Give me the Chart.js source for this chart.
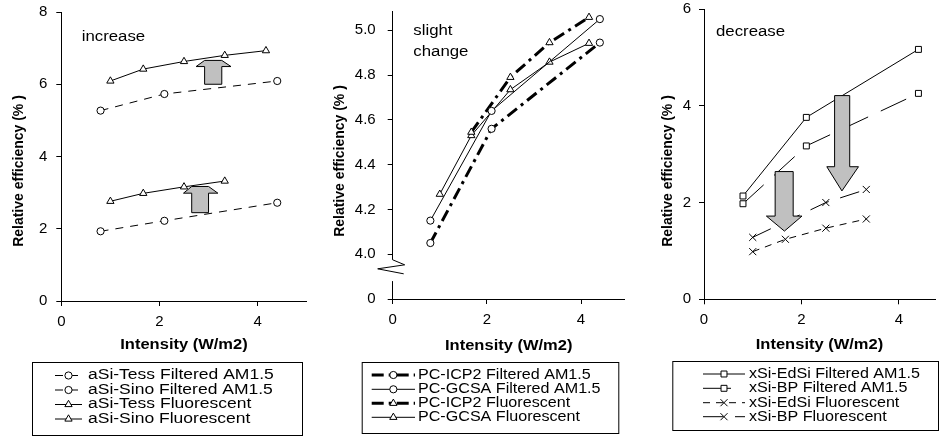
<!DOCTYPE html>
<html>
<head>
<meta charset="utf-8">
<script src="https://cdn.jsdelivr.net/npm/chart.js@4.4.1/dist/chart.umd.min.js"></script>
<style>
  html, body { margin: 0; padding: 0; background: #fff; }
  #wrap { position: relative; width: 941px; height: 437px; overflow: hidden; }
  canvas { position: absolute; top: 0; }
</style>
</head>
<body>
<div id="wrap">
  <canvas id="c1" width="320" height="437" style="left:0"></canvas>
  <canvas id="c2" width="310" height="437" style="left:320px"></canvas>
  <canvas id="c3" width="311" height="437" style="left:630px"></canvas>
</div>
<script>
// intensity positions (W/m2)
const xFiltered = [0.8, 2.1, 4.4];
const xFluor = [1.0, 1.67, 2.5, 3.33, 4.17];
const xFluorShort = [1.0, 1.67, 2.5, 3.33];
const xIcp2Fluor = [1.67, 2.5, 3.33, 4.17];
const xBpFluor = [1.0, 2.5, 3.33];
const xTicks = [0, 2, 4];

// panel 1 - aSi (increase)
const aSiTessFiltered = [5.27, 5.73, 6.09];
const aSiSinoFiltered = [1.93, 2.22, 2.72];
const aSiTessFluor = [6.09, 6.42, 6.63, 6.80, 6.93];
const aSiSinoFluor = [2.76, 2.98, 3.16, 3.32];
const yTicks1 = [0, 2, 4, 6, 8];

// panel 2 - PC (slight change)
const pcIcp2Filtered = [4.05, 4.56, 4.945];
const pcGcsaFiltered = [4.15, 4.64, 5.05];
const pcIcp2Fluor = [4.545, 4.79, 4.945, 5.058];
const pcGcsaFluor = [4.268, 4.53, 4.735, 4.858, 4.942];
const yTicks2 = [3.8, 4.0, 4.2, 4.4, 4.6, 4.8, 5.0]; // 3.8 is shown as "0" under the axis break

// panel 3 - xSi (decrease)
const xSiEdSiFiltered = [2.135, 3.76, 5.165];
const xSiBpFiltered = [1.975, 3.17, 4.256];
const xSiEdSiFluor = [0.985, 1.24, 1.47, 1.66];
const xSiBpFluor = [1.28, 2.0, 2.27];
const yTicks3 = [0, 2, 4, 6];

// block arrows, in data units of their panel
const arrows1 = [
  [[2.92, 6.0], [3.27, 6.0], [3.27, 6.49], [3.457, 6.49], [3.27, 6.66], [2.92, 6.66], [2.747, 6.49], [2.92, 6.49]],
  [[2.657, 2.445], [3.0, 2.445], [3.0, 2.985], [3.19, 2.985], [3.0, 3.17], [2.657, 3.17], [2.49, 2.985], [2.657, 2.985]]
];
const arrows3 = [
  [[1.46, 2.64], [1.83, 2.64], [1.83, 1.72], [2.01, 1.72], [1.65, 1.41], [1.28, 1.72], [1.46, 1.72]],
  [[2.68, 4.21], [2.99, 4.21], [2.99, 2.74], [3.17, 2.74], [2.83, 2.24], [2.52, 2.74], [2.68, 2.74]]
];

const FONT = '"Liberation Sans", Arial, sans-serif';
Chart.defaults.font.family = FONT;
Chart.defaults.color = '#000';

const pts = (xs, ys) => ys.map((y, i) => ({ x: xs[i], y: y }));

function ds(label, xs, ys, style) {
  return Object.assign({
    label: label,
    data: pts(xs, ys),
    showLine: true,
    borderColor: '#000',
    borderWidth: 1,
    pointBorderColor: '#000',
    pointBackgroundColor: '#fff',
    pointBorderWidth: 1,
    pointRadius: 3.6,
    tension: 0,
    fill: false
  }, style);
}

function drawMarker(ctx, style, r, x, y) {
  ctx.save();
  ctx.setLineDash([]);
  ctx.lineWidth = 1;
  ctx.strokeStyle = '#000';
  ctx.fillStyle = '#fff';
  ctx.beginPath();
  if (style === 'circle') {
    ctx.arc(x, y, r, 0, Math.PI * 2);
  } else if (style === 'triangle') {
    ctx.moveTo(x, y - r);
    ctx.lineTo(x + 0.866 * r, y + 0.5 * r);
    ctx.lineTo(x - 0.866 * r, y + 0.5 * r);
    ctx.closePath();
  } else if (style === 'rect') {
    const s = Math.SQRT1_2 * r;
    ctx.rect(x - s, y - s, 2 * s, 2 * s);
  } else if (style === 'crossRot') {
    const o = Math.SQRT1_2 * r;
    ctx.moveTo(x - o, y - o); ctx.lineTo(x + o, y + o);
    ctx.moveTo(x - o, y + o); ctx.lineTo(x + o, y - o);
  }
  if (style !== 'crossRot') ctx.fill();
  ctx.stroke();
  ctx.restore();
}

function stretchText(ctx, text, x, y, sx) {
  ctx.save();
  ctx.translate(x, y);
  ctx.scale(sx, 1);
  ctx.fillText(text, 0, 0);
  ctx.restore();
}

// titles, notes, arrows, axis break and the boxed legend
function deco(cfg) {
  return {
    id: 'deco',
    afterDatasetsDraw(chart) {
      const ctx = chart.ctx, sx = chart.scales.x, sy = chart.scales.y;
      (cfg.arrows || []).forEach(poly => {
        ctx.save();
        ctx.beginPath();
        poly.forEach((p, i) => {
          const px = sx.getPixelForValue(p[0]), py = sy.getPixelForValue(p[1]);
          if (i) ctx.lineTo(px, py); else ctx.moveTo(px, py);
        });
        ctx.closePath();
        ctx.fillStyle = '#c0c0c0';
        ctx.fill();
        ctx.strokeStyle = '#000';
        ctx.lineWidth = 1;
        ctx.stroke();
        ctx.restore();
      });
    },
    afterDraw(chart) {
      const ctx = chart.ctx, area = chart.chartArea, sy = chart.scales.y;
      ctx.save();
      ctx.fillStyle = '#000';
      ctx.strokeStyle = '#000';

      if (cfg.axisBreak) {
        const y1 = sy.getPixelForValue(cfg.axisBreak[1]);
        const y2 = sy.getPixelForValue(cfg.axisBreak[0]);
        const ax = area.left;
        ctx.fillStyle = '#fff';
        ctx.fillRect(ax - 3, y1, 6, y2 - y1);
        ctx.beginPath();
        ctx.lineWidth = 1;
        ctx.moveTo(ax, y1);
        ctx.lineTo(ax + 12, y1 + 5);
        ctx.lineTo(ax - 15, y1 + 9);
        ctx.lineTo(ax + 11, y1 + 14);
        ctx.stroke();
        ctx.fillStyle = '#000';
      }

      // notes inside the plot
      ctx.font = '14px ' + FONT;
      ctx.textAlign = 'left';
      ctx.textBaseline = 'middle';
      cfg.notes.forEach(n => stretchText(ctx, n.text, n.x, n.y, 1.2));

      // axis titles
      ctx.font = 'bold 15px ' + FONT;
      ctx.textAlign = 'center';
      stretchText(ctx, 'Intensity (W/m2)', (area.left + area.right) / 2, cfg.xTitleY, 1.1);
      ctx.font = 'bold 14px ' + FONT;
      ctx.save();
      ctx.translate(cfg.yTitle[0], cfg.yTitle[1]);
      ctx.rotate(-Math.PI / 2);
      ctx.fillText('Relative efficiency (% )', 0, 0);
      ctx.restore();

      // legend
      const lg = cfg.legend;
      ctx.lineWidth = 1;
      ctx.strokeRect(lg.box[0] + 0.5, lg.box[1] + 0.5, lg.box[2] - lg.box[0], lg.box[3] - lg.box[1]);
      ctx.font = '14px ' + FONT;
      ctx.textAlign = 'left';
      chart.data.datasets.forEach((d, i) => {
        const y = lg.rows[i];
        ctx.save();
        ctx.beginPath();
        ctx.setLineDash(d.borderDash || []);
        ctx.lineWidth = d.borderWidth;
        ctx.moveTo(lg.sample[0], y);
        ctx.lineTo(lg.sample[1], y);
        ctx.stroke();
        ctx.restore();
        drawMarker(ctx, d.pointStyle, d.pointRadius, (lg.sample[0] + lg.sample[1]) / 2, y);
        stretchText(ctx, d.label, lg.textX, y, lg.sx);
      });
      ctx.restore();
    }
  };
}

function makeScales(o) {
  const axisLine = { display: true, color: '#000', width: 1 };
  const grid = { drawOnChartArea: false, color: '#000', tickLength: 5, lineWidth: 1 };
  return {
    x: {
      type: 'linear', min: 0, max: o.xMax,
      afterBuildTicks: s => { s.ticks = xTicks.map(v => ({ value: v })); },
      afterFit: s => { s.height = 30; s.paddingLeft = 0; s.paddingRight = 0; },
      ticks: { color: '#000', font: { size: 15 }, padding: 7, maxRotation: 0, autoSkip: false },
      grid: grid,
      border: axisLine
    },
    y: {
      type: 'linear', min: o.yMin, max: o.yMax,
      afterBuildTicks: s => { s.ticks = o.yTicks.map(v => ({ value: v })); },
      afterFit: s => { s.width = o.left; s.paddingTop = 0; s.paddingBottom = 0; },
      ticks: { color: '#000', font: { size: 15 }, padding: o.yPad, autoSkip: false, callback: o.yLabel },
      grid: grid,
      border: axisLine
    }
  };
}

function makeChart(id, datasets, o, cfg) {
  return new Chart(document.getElementById(id), {
    type: 'scatter',
    data: { datasets: datasets },
    options: {
      responsive: false,
      animation: false,
      devicePixelRatio: 1,
      layout: { padding: { top: o.top, right: o.padRight, bottom: o.padBottom, left: 0 } },
      plugins: { legend: { display: false }, tooltip: { enabled: false } },
      scales: makeScales(o)
    },
    plugins: [deco(cfg)]
  });
}

const dash1 = [8, 7];
makeChart('c1', [
  ds('aSi-Tess Filtered AM1.5', xFiltered, aSiTessFiltered, { pointStyle: 'circle', borderDash: dash1 }),
  ds('aSi-Sino Filtered AM1.5', xFiltered, aSiSinoFiltered, { pointStyle: 'circle', borderDash: dash1 }),
  ds('aSi-Tess Fluorescent', xFluor, aSiTessFluor, { pointStyle: 'triangle', pointRadius: 4.2 }),
  ds('aSi-Sino Fluorescent', xFluorShort, aSiSinoFluor, { pointStyle: 'triangle', pointRadius: 4.2 })
], {
  xMax: 5, yMin: 0, yMax: 8, yTicks: yTicks1, yLabel: v => String(v),
  left: 61.3, top: 12, padRight: 13.3, padBottom: 106, yPad: 9
}, {
  arrows: arrows1,
  notes: [{ text: 'increase', x: 81.7, y: 36.7 }],
  xTitleY: 345, yTitle: [19, 171],
  legend: { box: [32, 362, 302, 435], rows: [375.5, 390, 404.5, 419], sample: [55, 82], textX: 88, sx: 1.25 }
});

const dashDot = [12, 5, 3, 5];
makeChart('c2', [
  ds('PC-ICP2 Filtered AM1.5', xFiltered, pcIcp2Filtered, { pointStyle: 'circle', borderWidth: 3, borderDash: dashDot }),
  ds('PC-GCSA Filtered AM1.5', xFiltered, pcGcsaFiltered, { pointStyle: 'circle' }),
  ds('PC-ICP2 Fluorescent', xIcp2Fluor, pcIcp2Fluor, { pointStyle: 'triangle', pointRadius: 4.2, borderWidth: 3, borderDash: dashDot }),
  ds('PC-GCSA Fluorescent', xFluor, pcGcsaFluor, { pointStyle: 'triangle', pointRadius: 4.2 })
], {
  xMax: 4.93, yMin: 3.8, yMax: 5.083, yTicks: yTicks2, yLabel: v => (v < 3.9 ? '0' : v.toFixed(1)),
  left: 72.7, top: 11.7, padRight: 0, padBottom: 108, yPad: 12
}, {
  axisBreak: [3.88, 3.975],
  notes: [{ text: 'slight', x: 93.3, y: 30.7 }, { text: 'change', x: 93.3, y: 51.7 }],
  xTitleY: 346, yTitle: [20, 161],
  legend: { box: [41.7, 362, 298.3, 433], rows: [375, 389.3, 403.3, 417.3], sample: [51.7, 95], textX: 98, sx: 1.15 }
});

makeChart('c3', [
  ds('xSi-EdSi Filtered AM1.5', xFiltered, xSiEdSiFiltered, { pointStyle: 'rect', pointRadius: 4.2 }),
  ds('xSi-BP Filtered AM1.5', xFiltered, xSiBpFiltered, { pointStyle: 'rect', pointRadius: 4.2, borderDash: [28, 14] }),
  ds('xSi-EdSi Fluorescent', xFluorShort, xSiEdSiFluor, { pointStyle: 'crossRot', pointRadius: 5, borderDash: [7, 6] }),
  ds('xSi-BP Fluorescent', xBpFluor, xSiBpFluor, { pointStyle: 'crossRot', pointRadius: 5, borderDash: [20, 12] })
], {
  xMax: 4.74, yMin: 0, yMax: 6, yTicks: yTicks3, yLabel: v => String(v),
  left: 74, top: 9, padRight: 1, padBottom: 107.7, yPad: 8
}, {
  arrows: arrows3,
  notes: [{ text: 'decrease', x: 86, y: 32.3 }],
  xTitleY: 345, yTitle: [38.5, 171],
  legend: { box: [42.3, 361, 308, 430], rows: [374, 388.3, 402.7, 416.7], sample: [73, 115], textX: 119, sx: 1.15 }
});
</script>
</body>
</html>
